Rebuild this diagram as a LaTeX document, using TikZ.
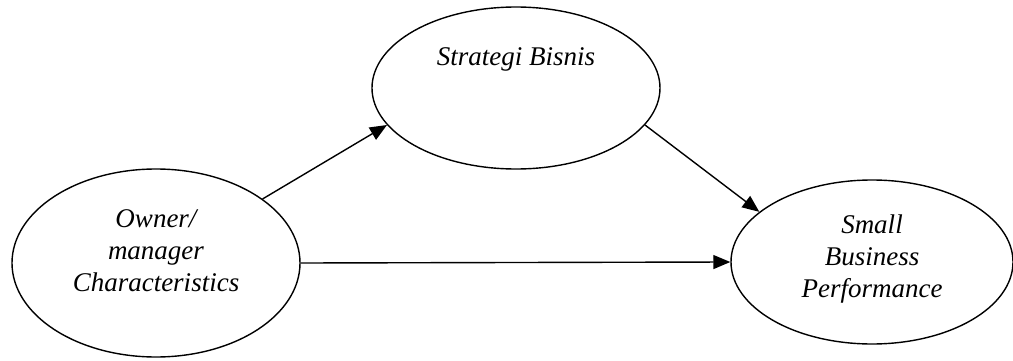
\documentclass[tikz,border=0pt]{standalone}
\usepackage{fontspec}
\setmainfont{Liberation Serif}
\usetikzlibrary{shapes.geometric,arrows.meta}
\begin{document}
\begin{tikzpicture}[x=1pt,y=1pt,
  oval/.style={draw,ellipse,line width=1.4pt,inner sep=0pt},
  lbl/.style={font=\fontsize{27}{32}\selectfont\itshape,align=center},
  conn/.style={line width=1.4pt,-{Triangle[length=17pt,width=14pt]}}]
\useasboundingbox (0,0) rectangle (1013,360);
\node[oval,minimum width=288,minimum height=162] (S) at (516,272) {};
\node[oval,minimum width=288,minimum height=188] (O) at (156,97) {};
\node[oval,minimum width=282,minimum height=164] (P) at (872,98) {};
\node[lbl] (St) at (516,301) {Strategi Bisnis};
\node[lbl] (Ot) at (156,109) {Owner/\\manager\\Characteristics};
\node[lbl] (Pt) at (872,101) {Small\\Business\\Performance};
\draw[conn] (O.31.7) -- (S.196.7);
\draw[conn] (S.-16.6) -- (P.156.3);
\draw[conn] (O.east) -- (P.west);
\end{tikzpicture}
\end{document}
